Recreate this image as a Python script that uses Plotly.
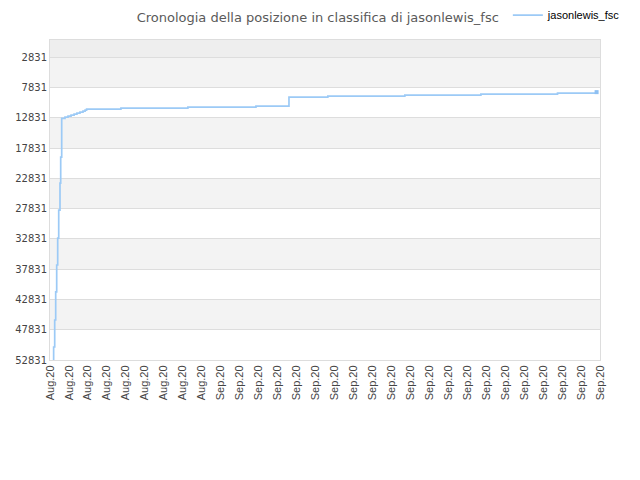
import plotly.graph_objects as go

# asse x: 30 etichette, posizioni 0..29
tick_labels = ['Aug.20'] * 9 + ['Sep.20'] * 21

# posizioni lungo l'asse del tempo (in unita di etichetta) e posizione in classifica
time_pos = [0.18, 0.192, 0.248, 0.30, 0.353, 0.406, 0.459, 0.527, 0.564, 0.617,
            0.79, 0.95, 1.11, 1.27, 1.42, 1.58, 1.74, 1.85, 1.93,
            3.74, 7.27, 10.86, 12.60, 14.65, 18.71, 22.72, 26.76, 28.82]
rank = [52900, 50681, 46225, 41600, 37150, 32700, 28080, 23620, 19330, 12946,
        12731, 12566, 12401, 12236, 12071, 11906, 11741, 11576, 11411,
        11246, 11081, 10916, 9431, 9266, 9101, 8936, 8771, 8606]

y_ticks = [2831, 7831, 12831, 17831, 22831, 27831, 32831, 37831, 42831, 47831, 52831]
y_top = 0

line_color = '#9ccaf6'

fig = go.Figure()
fig.add_trace(go.Scatter(
    x=time_pos, y=rank, mode='lines', name='jasonlewis_fsc',
    line=dict(color=line_color, width=1.7, shape='hv')
))
fig.add_trace(go.Scatter(
    x=time_pos[-1:], y=rank[-1:], mode='markers', showlegend=False,
    marker=dict(color='#8ec0f2', size=4, symbol='square')
))

# fasce alternate
shapes = [dict(type='rect', xref='paper', yref='y', x0=0, x1=1, y0=y_top, y1=y_ticks[0],
               fillcolor='#eeeeee', line_width=0, layer='below')]
for i in range(0, len(y_ticks) - 1, 2):
    shapes.append(dict(type='rect', xref='paper', yref='y', x0=0, x1=1,
                       y0=y_ticks[i], y1=y_ticks[i + 1],
                       fillcolor='#f3f3f3', line_width=0, layer='below'))

fig.update_layout(
    width=640, height=480,
    margin=dict(l=42, r=48, t=32, b=128, autoexpand=False),
    paper_bgcolor='white', plot_bgcolor='white',
    title=dict(text='Cronologia della posizione in classifica di jasonlewis_fsc',
               x=0.484, xref='container', y=0.98, yanchor='middle',
               font=dict(family='DejaVu Sans', size=13, color='#5a5a5a')),
    legend=dict(x=0.781, xref='container', xanchor='left',
                y=0.985, yref='container', yanchor='middle',
                font=dict(family='Liberation Sans', size=11, color='#000000'),
                bgcolor='rgba(0,0,0,0)'),
    shapes=shapes,
    xaxis=dict(range=[0, len(tick_labels) - 1], tickvals=list(range(len(tick_labels))),
               ticktext=tick_labels, tickangle=-90, showgrid=False, zeroline=False,
               showline=True, linecolor='#dddddd', mirror=True, ticks='',
               automargin=False,
               tickfont=dict(family='Liberation Sans', size=11, color='#444444')),
    yaxis=dict(range=[y_ticks[-1], y_top], tickvals=y_ticks, tickformat='d',
               showgrid=True, gridcolor='#dddddd', zeroline=False, showline=True,
               linecolor='#dddddd', mirror=True, ticks='', automargin=False,
               tickfont=dict(family='DejaVu Sans', size=10, color='#444444')),
)

fig.write_html('out.html')
